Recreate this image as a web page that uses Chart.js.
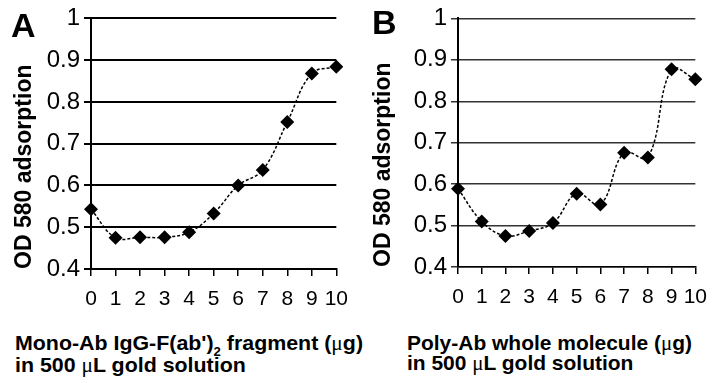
<!DOCTYPE html>
<html>
<head>
<meta charset="utf-8">
<script src="https://cdn.jsdelivr.net/npm/chart.js@4/dist/chart.umd.min.js"></script>
<style>
  html, body { margin: 0; padding: 0; background: #fff; }
  body { width: 718px; height: 383px; position: relative; overflow: hidden; }
  canvas { position: absolute; top: 0; }
  #cA { left: 0; }
  #cB { left: 359px; }
  .panel { position: absolute; font-family: "Liberation Sans", Arial, sans-serif; font-weight: bold; font-size: 34px; line-height: 1; color: #000; }
  .xt { position: absolute; top: 333px; font-family: "Liberation Sans", Arial, sans-serif; font-weight: bold; font-size: 21px; line-height: 19px; color: #000; white-space: nowrap; transform-origin: 0 0; }
  .mu { font-family: "Liberation Serif", "DejaVu Serif", serif; font-weight: normal; }
  .sub { font-size: 13px; position: relative; top: 6px; }
</style>
</head>
<body>
<canvas id="cA" width="359" height="320"></canvas>
<canvas id="cB" width="359" height="320"></canvas>
<div class="panel" style="left:11px; top:8px;">A</div>
<div class="panel" style="left:372px; top:5px;">B</div>
<div class="xt" id="xtA" style="left:15px;"><span class="l1">Mono-Ab IgG-F(ab')<span class="sub">2</span> fragment (<span class="mu">μ</span>g)</span><br>in 500 <span class="mu">μ</span>L gold solution</div>
<div class="xt" id="xtB" style="left:407px;"><span class="l1">Poly-Ab whole molecule (<span class="mu">μ</span>g)</span><br>in 500 <span class="mu">μ</span>L gold solution</div>
<script>
// antibody amount added (µg) per 500 µL of gold colloid
const doseUg = ['0', '1', '2', '3', '4', '5', '6', '7', '8', '9', '10'];
// OD580 for the monoclonal F(ab')2 fragment
const monoFab = [0.543, 0.475, 0.476, 0.476, 0.488, 0.533, 0.600, 0.637, 0.752, 0.868, 0.884];
// OD580 for the polyclonal whole molecule
const polyWhole = [0.589, 0.510, 0.475, 0.487, 0.506, 0.577, 0.551, 0.676, 0.664, 0.877, 0.853];
// y axis range and step
const yMin = 0.4, yMax = 1.0, yStep = 0.1;

const sans = '"Liberation Sans", Arial, sans-serif';

// squeeze the axis captions horizontally to a condensed look
function condense(id, firstLineWidth) {
  const el = document.getElementById(id);
  const w = el.querySelector('.l1').getBoundingClientRect().width;
  el.style.transform = 'scaleX(' + (firstLineWidth / w) + ')';
}
condense('xtA', 348);
condense('xtB', 285);

function makeChart(id, values, box, gridStyle) {
  return new Chart(document.getElementById(id), {
    type: 'line',
    data: {
      labels: doseUg,
      datasets: [{
        data: values,
        borderColor: '#000',
        borderWidth: 1.5,
        borderDash: [3, 2],
        tension: 0.4,
        pointStyle: 'rectRot',
        pointRadius: 7,
        pointBackgroundColor: '#000',
        pointBorderColor: '#000',
        pointBorderWidth: 0
      }]
    },
    options: {
      responsive: false,
      devicePixelRatio: 1,
      animation: false,
      events: [],
      layout: { padding: { left: 0, top: box.top, right: box.right, bottom: 0 } },
      plugins: { legend: { display: false }, tooltip: { enabled: false } },
      scales: {
        x: {
          offset: false,
          grid: { display: true, drawOnChartArea: false, drawTicks: true, tickLength: 7, color: '#000', lineWidth: 1.5 },
          border: { display: true, color: '#000', width: gridStyle.width },
          ticks: { color: '#000', padding: 11, maxRotation: 0, autoSkip: false, font: { family: sans, size: 21 } },
          afterFit: s => { s.height = 320 - box.bottom; }
        },
        y: {
          min: yMin, max: yMax,
          grid: { color: gridStyle.color, lineWidth: gridStyle.width, tickLength: 7 },
          border: { display: true, color: '#000', width: 2 },
          ticks: {
            stepSize: yStep, color: '#000', padding: 4, font: { family: sans, size: 24 },
            callback: v => String(Number(v.toFixed(1)))
          },
          title: {
            display: true, text: 'OD 580 adsorption', align: 'start', color: '#000',
            font: { family: sans, size: 23, weight: 'bold' }, padding: { top: 11, bottom: 0 }
          },
          afterFit: s => { s.width = box.left; }
        }
      }
    }
  });
}

makeChart('cA', monoFab, { left: 91, top: 18, right: 19, bottom: 269 }, { color: '#000', width: 2 });
makeChart('cB', polyWhole, { left: 99, top: 13, right: 17, bottom: 267 }, { color: '#333', width: 1.5 });
</script>
</body>
</html>
